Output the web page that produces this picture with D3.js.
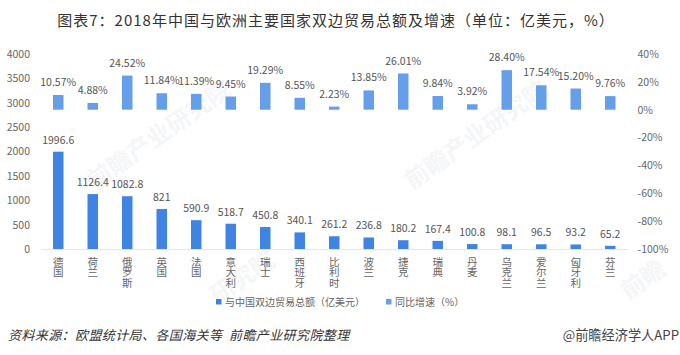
<!DOCTYPE html>
<html>
<head>
<meta charset="utf-8">
<script src="https://cdnjs.cloudflare.com/ajax/libs/d3/7.8.5/d3.min.js"></script>
<style>
  html, body { margin:0; padding:0; background:#fff; }
  text { font-family:"Noto Sans CJK SC","Noto Sans",sans-serif; }
</style>
</head>
<body>
<svg id="chart" width="680" height="355"></svg>
<script>
// values
const countries = ['德国','荷兰','俄罗斯','英国','法国','意大利','瑞士','西班牙','比利时','波兰','捷克','瑞典','丹麦','乌克兰','爱尔兰','匈牙利','芬兰'];
const tradeTotal = [1996.6,1126.4,1082.8,821,590.9,518.7,450.8,340.1,261.2,236.8,180.2,167.4,100.8,98.1,96.5,93.2,65.2];
const growthRate = [10.57,4.88,24.52,11.84,11.39,9.45,19.29,8.55,2.23,13.85,26.01,9.84,3.92,28.40,17.54,15.20,9.76];
const leftTicks = [0,500,1000,1500,2000,2500,3000,3500,4000];
const rightTicks = [-100,-80,-60,-40,-20,0,20,40];
const legendNames = ['与中国双边贸易总额（亿美元）','同比增速（%）'];
const watermarks = ['前瞻产业研究院','前瞻产业研究院','研究院','前瞻'];

const svg = d3.select('#chart');
const margin = {t:54, r:52.5, b:106, l:41};
const width = 680, height = 355;
const w = width - margin.l - margin.r;
const h = height - margin.t - margin.b;
const barW = 10.5;
const darkBlue = '#3f83e3', lightBlue = '#659ee9', grey = '#666';

// watermark, drawn first so it sits behind the marks
const markPos = [[95,190],[412,190],[218,305],[628,300]];
svg.append('g').selectAll('text')
    .data(watermarks)
    .join('text')
    .attr('transform', (d,i) => `translate(${markPos[i][0]},${markPos[i][1]}) rotate(-35)`)
    .attr('font-size', 24)
    .attr('font-weight', 700)
    .attr('fill', '#f5f6f8')
    .text(d => d);

svg.append('text')
    .attr('x', 336).attr('y', 26)
    .attr('text-anchor', 'middle')
    .attr('font-size', 15)
    .attr('letter-spacing', 1)
    .attr('fill', '#333')
    .text('图表7：2018年中国与欧洲主要国家双边贸易总额及增速（单位：亿美元，%）');

const plot = svg.append('g').attr('transform', `translate(${margin.l},${margin.t})`);

// scales
const scaleX = d3.scaleBand().domain(countries).range([0,w]);
const scaleL = d3.scaleLinear().domain([0,4000]).range([h,0]);
const scaleR = d3.scaleLinear().domain([-100,40]).range([h,0]);
const cx = d => scaleX(d) + scaleX.bandwidth()/2;

// axes
const axisL = plot.append('g')
    .call(d3.axisLeft(scaleL).tickValues(leftTicks).tickSize(0).tickPadding(11).tickFormat(d3.format('d')));
const axisR = plot.append('g')
    .attr('transform', `translate(${w},0)`)
    .call(d3.axisRight(scaleR).tickValues(rightTicks).tickSize(0).tickPadding(10).tickFormat(d => d + '%'));
const axisB = plot.append('g')
    .attr('transform', `translate(0,${h})`)
    .call(d3.axisBottom(scaleX).tickSize(0));

axisL.select('.domain').remove();
axisR.select('.domain').remove();
axisB.select('.domain').attr('stroke', '#e4e6ea');
[axisL, axisR].forEach(a => a.selectAll('text')
    .attr('font-family', '"Noto Sans"').attr('font-size', 10.5).attr('fill', grey));

// country names run top to bottom
axisB.selectAll('.tick text')
    .attr('y', 7.5)
    .attr('dy', null)
    .attr('text-anchor', 'start')
    .attr('font-size', 10.5)
    .attr('letter-spacing', 0.2)
    .attr('fill', grey)
    .style('writing-mode', 'vertical-rl');

// total bars
plot.selectAll('.bar-total')
    .data(countries)
    .join('rect')
    .attr('class', 'bar-total')
    .attr('x', d => cx(d) - barW/2)
    .attr('y', (d,i) => scaleL(tradeTotal[i]))
    .attr('width', barW)
    .attr('height', (d,i) => h - scaleL(tradeTotal[i]))
    .attr('fill', darkBlue);

plot.selectAll('.label-total')
    .data(countries)
    .join('text')
    .attr('class', 'label-total')
    .attr('x', cx)
    .attr('y', (d,i) => scaleL(tradeTotal[i]) - 8)
    .attr('text-anchor', 'middle')
    .attr('font-family', '"Noto Sans"')
    .attr('font-size', 10.5)
    .attr('fill', '#555')
    .text((d,i) => tradeTotal[i]);

// growth bars
plot.selectAll('.bar-growth')
    .data(countries)
    .join('rect')
    .attr('class', 'bar-growth')
    .attr('x', d => cx(d) - barW/2)
    .attr('y', (d,i) => scaleR(growthRate[i]))
    .attr('width', barW)
    .attr('height', (d,i) => scaleR(0) - scaleR(growthRate[i]))
    .attr('fill', lightBlue);

plot.selectAll('.label-growth')
    .data(countries)
    .join('text')
    .attr('class', 'label-growth')
    .attr('x', cx)
    .attr('y', (d,i) => scaleR(growthRate[i]) - 9)
    .attr('text-anchor', 'middle')
    .attr('font-family', '"Noto Sans"')
    .attr('font-size', 10.5)
    .attr('fill', '#555')
    .text((d,i) => growthRate[i].toFixed(2) + '%');

// legend
const legendX = [216, 386];
const legend = svg.append('g').selectAll('g')
    .data(legendNames)
    .join('g')
    .attr('transform', (d,i) => `translate(${legendX[i]},302)`);
legend.append('rect')
    .attr('y', -3).attr('width', 5.5).attr('height', 5.5)
    .attr('fill', (d,i) => i ? lightBlue : darkBlue);
legend.append('text')
    .attr('x', 9).attr('y', 4)
    .attr('font-size', 10)
    .attr('fill', grey)
    .text(d => d);

// source line and credit
svg.append('text')
    .attr('x', 8).attr('y', 340)
    .attr('font-size', 13)
    .attr('font-style', 'italic')
    .attr('letter-spacing', 0.4)
    .attr('fill', '#333')
    .text('资料来源：欧盟统计局、各国海关等\u00a0\u00a0前瞻产业研究院整理');

svg.append('text')
    .attr('x', 679).attr('y', 340)
    .attr('text-anchor', 'end')
    .attr('font-size', 13.2)
    .attr('fill', '#444')
    .text('@前瞻经济学人APP');
</script>
</body>
</html>
